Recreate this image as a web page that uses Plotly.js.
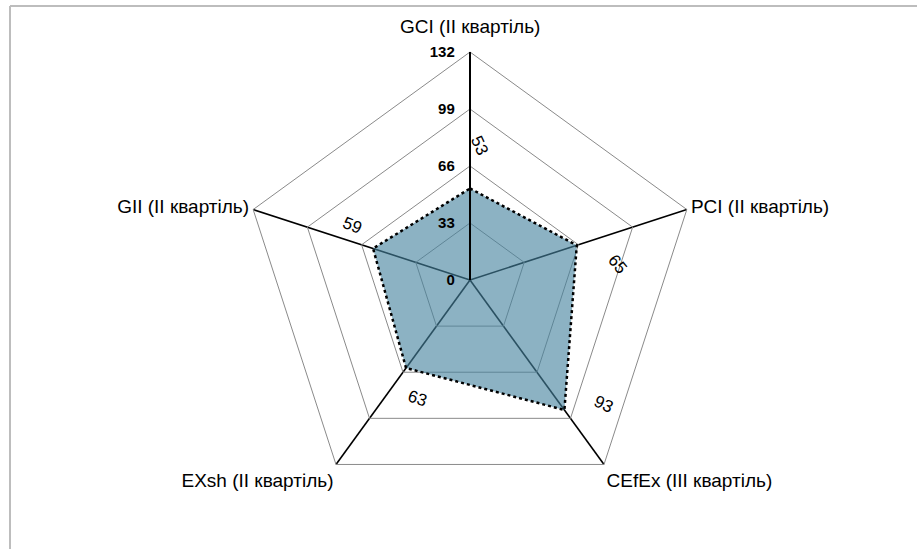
<!DOCTYPE html>
<html><head><meta charset="utf-8">
<script src="https://cdn.plot.ly/plotly-3.0.1.min.js"></script>
<style>html,body{margin:0;padding:0;background:#fff}#chart{width:917px;height:549px}</style>
</head><body><div id="chart"></div>
<script>
const categories = ["GCI (II квартіль)", "PCI (II квартіль)", "CEfEx (III квартіль)", "EXsh (II квартіль)", "GII (II квартіль)"];
const values = [53, 65, 93, 63, 59];
const radialTicks = [0, 33, 66, 99, 132];
const radialMax = 132;

// label styling (offsets from each point, rotation)
const labelStyle = [
  {dr: 25, dtheta: 4, angle: 65},
  {dr: 21, dtheta: 12, angle: 50},
  {dr: 13, dtheta: -11, angle: 25},
  {dr: 12, dtheta: -12, angle: 18},
  {dr: 16, dtheta: 7, angle: 22}
];

const W = 917, H = 549;
const cx = 470, cy = 280, R = 228;
const dx = [(cx - R) / W, (cx + R) / W];
const dy = [(H - cy - R) / H, (H - cy + R) / H];
const step = 360 / categories.length;
const catFont = {family: 'Liberation Sans, Arial', size: 19, color: '#000'};

// top category label is drawn as an annotation (sits higher above its vertex)
const angularTickText = categories.map((c, i) => i === 0 ? '' : c);

const trace = {
  type: 'scatterpolar',
  r: values.concat([values[0]]),
  theta: categories.concat([categories[0]]),
  mode: 'lines',
  fill: 'toself',
  fillcolor: 'rgba(70,130,158,0.62)',
  line: {color: '#000', width: 2.5, dash: 'dot'},
  hoverinfo: 'skip',
  showlegend: false
};

const annotations = values.map((v, i) => {
  const s = labelStyle[i];
  const rr = v + s.dr;
  const th = (i * step + s.dtheta) * Math.PI / 180;
  return {
    x: rr * Math.sin(th), y: rr * Math.cos(th), xref: 'x', yref: 'y',
    text: String(v), showarrow: false, textangle: s.angle,
    font: {family: 'Liberation Sans, Arial', size: 17, color: '#000'}
  };
});
annotations.push({
  x: 0, y: radialMax, xref: 'x', yref: 'y', text: categories[0], showarrow: false,
  xanchor: 'center', yanchor: 'bottom', yshift: 13, font: catFont
});

const layout = {
  width: W, height: H,
  margin: {l: 0, r: 0, t: 0, b: 0},
  paper_bgcolor: '#fff', plot_bgcolor: 'rgba(0,0,0,0)',
  showlegend: false,
  font: {family: 'Liberation Sans, Arial', color: '#000'},
  polar: {
    domain: {x: dx, y: dy},
    bgcolor: 'rgba(0,0,0,0)',
    gridshape: 'linear',
    radialaxis: {
      range: [0, radialMax], tickvals: radialTicks, ticktext: radialTicks.map(String),
      angle: 90, tickangle: 90, side: 'counterclockwise', showline: true, linecolor: '#000', linewidth: 2,
      gridcolor: '#8a8a8a', gridwidth: 1, ticks: 'outside', ticklen: 9, tickcolor: 'rgba(0,0,0,0)', layer: 'above traces',
      tickfont: {family: 'Liberation Sans, Arial', size: 15, color: '#000', weight: 'bold'}
    },
    angularaxis: {
      type: 'category',
      tickmode: 'array', tickvals: categories, ticktext: angularTickText,
      rotation: 90, direction: 'clockwise',
      showline: true, linecolor: '#8a8a8a', linewidth: 1,
      gridcolor: '#000', gridwidth: 1.6, ticks: '',
      tickfont: catFont
    }
  },
  xaxis: {domain: dx, range: [-radialMax, radialMax], visible: false, fixedrange: true},
  yaxis: {domain: dy, range: [-radialMax, radialMax], visible: false, fixedrange: true},
  annotations: annotations,
  shapes: [
    {type: 'line', xref: 'paper', yref: 'paper', x0: 10/W, x1: 1, y0: 1 - 6/H, y1: 1 - 6/H, line: {color: '#bdbdbd', width: 2}},
    {type: 'line', xref: 'paper', yref: 'paper', x0: 10/W, x1: 10/W, y0: 0, y1: 1 - 6/H, line: {color: '#bdbdbd', width: 2}}
  ]
};

const dummy = {type: 'scatter', x: [], y: [], xaxis: 'x', yaxis: 'y', showlegend: false, hoverinfo: 'skip'};

Plotly.newPlot('chart', [dummy, trace], layout, {displayModeBar: false, staticPlot: true});
</script></body></html>
